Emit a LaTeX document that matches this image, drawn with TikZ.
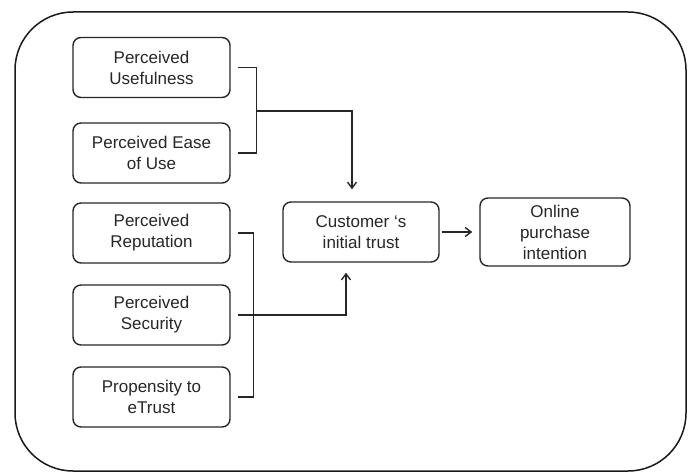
\documentclass[tikz,border=0pt]{standalone}
\usepackage{fontspec}
\setmainfont{Liberation Sans}
\usetikzlibrary{arrows.meta}
\begin{document}
\begin{tikzpicture}[x=1pt,y=-1pt,
  box/.style={draw=black!85,line width=1.4pt,rounded corners=8pt,align=center,
    minimum width=157pt,minimum height=60pt,inner sep=2pt,
    font=\fontsize{17}{21}\selectfont,text=black!85},
  conn/.style={draw=black!85,line width=1.4pt},
  arr/.style={conn,-{Straight Barb[length=6pt,width=9pt,line width=1.4pt]}}]
\useasboundingbox (0,0) rectangle (688,473);
\draw[line width=1.5pt,draw=black!90,rounded corners=58pt] (15,12) rectangle (686,471);
\node[box] (u) at (151.5,67.5) {Perceived\\Usefulness};
\node[box] (e) at (151.5,153) {Perceived Ease\\of Use};
\node[box] (r) at (151.5,233) {Perceived\\Reputation};
\node[box] (s) at (151.5,315) {Perceived\\Security};
\node[box] (p) at (151.5,397) {Propensity to\\eTrust};
\node[box,minimum width=156pt] (c) at (361,232) {Customer `s\\initial trust};
\node[box,minimum width=150pt,minimum height=68pt] (o) at (555,232) {Online\\purchase\\intention};
\coordinate (j1) at (256,111);
\draw[conn,shorten <=7pt,shorten >=7pt] (u.east) -- ++(26,0) |- (e.east);
\draw[arr,shorten >=12pt] (j1) -| ([xshift=-9pt]c.north);
\draw[conn,shorten <=7pt,shorten >=7pt] (r.east) -- ++(23,0) |- (p.east);
\draw[arr,shorten <=7pt,shorten >=10pt] (s.east) -| ([xshift=-15pt]c.south);
\draw[arr,shorten <=2pt,shorten >=7pt] (c.east) -- (o.west);
\end{tikzpicture}
\end{document}
